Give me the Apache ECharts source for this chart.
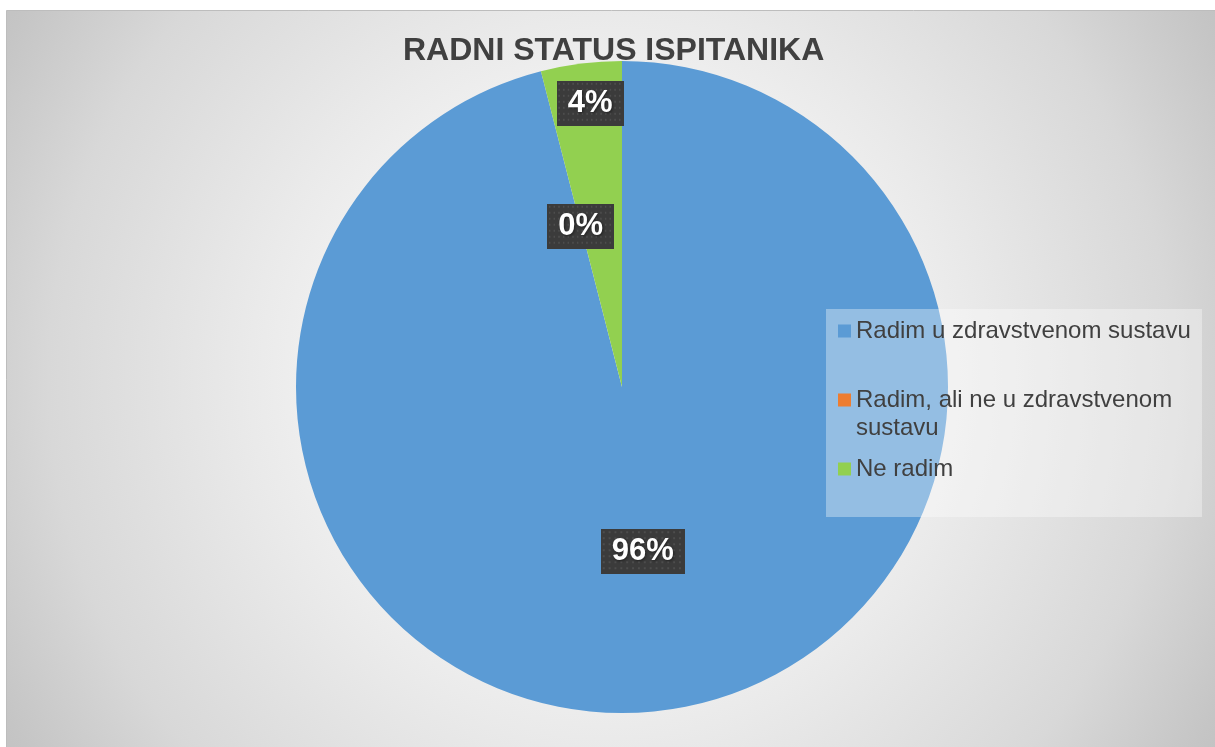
<!DOCTYPE html>
<html>
<head>
<meta charset="utf-8">
<script src="https://cdn.jsdelivr.net/npm/echarts@6/dist/echarts.min.js"></script>
<style>
  html, body { margin: 0; padding: 0; background: #fff; }
  #chart { width: 1215px; height: 747px; }
</style>
</head>
<body>
<div id="chart"></div>
<script>
const categories = ['Radim u zdravstvenom sustavu', 'Radim, ali ne u zdravstvenom sustavu', 'Ne radim'];
const shares = [96, 0, 4];
const sliceColors = ['#5B9BD5', '#ED7D31', '#92D050'];
const FONT = '"Liberation Sans", Arial, sans-serif';

// dotted dark label background, like the Office label style
function dotPattern(w, h) {
  const c = document.createElement('canvas');
  c.width = w; c.height = h;
  const g = c.getContext('2d');
  g.fillStyle = '#3b3b3b';
  g.fillRect(0, 0, w, h);
  g.fillStyle = '#4d4d4d';
  for (let y = 3; y < h; y += 6) {
    for (let x = 3; x < w; x += 6) {
      g.fillRect(x - 1, y - 1, 2, 2);
    }
  }
  return c;
}

const chart = echarts.init(document.getElementById('chart'));

const labelBase = {
  show: true,
  position: 'inside',
  formatter: p => p.value + '%',
  color: '#fff',
  fontFamily: FONT,
  fontWeight: 'bold',
  fontSize: 31,
  lineHeight: 31,
  padding: [7, 11],
  backgroundColor: { image: dotPattern(86, 45) },
  shadowColor: 'rgba(0,0,0,0.5)',
  shadowBlur: 8,
  shadowOffsetX: 4,
  shadowOffsetY: 4,
  textShadowColor: 'rgba(0,0,0,0.5)',
  textShadowBlur: 3,
  textShadowOffsetX: 1,
  textShadowOffsetY: 1,
};

chart.setOption({
  animation: false,
  backgroundColor: '#fff',
  title: {
    text: 'RADNI STATUS ISPITANIKA',
    left: 403,
    top: 35,
    padding: 0,
    textStyle: { fontFamily: FONT, fontWeight: 'bold', fontSize: 32, lineHeight: 32, color: '#404040' },
  },
  graphic: [
    {
      type: 'rect',
      z: -1,
      shape: { x: 6.5, y: 10.5, width: 1215, height: 745 },
      style: {
        fill: {
          type: 'radial', x: 610, y: 378, r: 720, global: true,
          colorStops: [
            { offset: 0, color: '#ffffff' },
            { offset: 0.3, color: '#f6f6f6' },
            { offset: 0.5, color: '#eaeaea' },
            { offset: 0.78, color: '#d8d8d8' },
            { offset: 0.96, color: '#c5c5c5' },
            { offset: 1, color: '#c2c2c2' },
          ],
        },
        stroke: '#bdbdbd',
        lineWidth: 1,
      },
    },
    {
      type: 'rect',
      z: 3,
      shape: { x: 826, y: 309, width: 376, height: 208 },
      style: { fill: 'rgba(255,255,255,0.35)' },
    },
  ],
  legend: {
    orient: 'vertical',
    left: 838,
    top: 317,
    padding: 0,
    itemGap: 13,
    itemWidth: 13,
    itemHeight: 13,
    itemStyle: { borderWidth: 0 },
    icon: 'rect',
    selectedMode: false,
    data: categories,
    // blank first line keeps the marker level with the first text line
    formatter: name => name === categories[1] ? ' \nRadim, ali ne u zdravstvenom\nsustavu' : name,
    textStyle: { fontFamily: FONT, fontSize: 24, lineHeight: 28, color: '#404040' },
  },
  series: [{
    type: 'pie',
    center: [622, 387],
    radius: 326,
    startAngle: 90,
    clockwise: true,
    avoidLabelOverlap: false,
    emphasis: { disabled: true },
    label: labelBase,
    labelLine: { show: false },
    data: categories.map((name, i) => ({
      name,
      value: shares[i],
      itemStyle: { color: sliceColors[i] },
      label: i === 2 ? { offset: [-11, -119] } : undefined,
    })),
  }],
});
</script>
</body>
</html>
